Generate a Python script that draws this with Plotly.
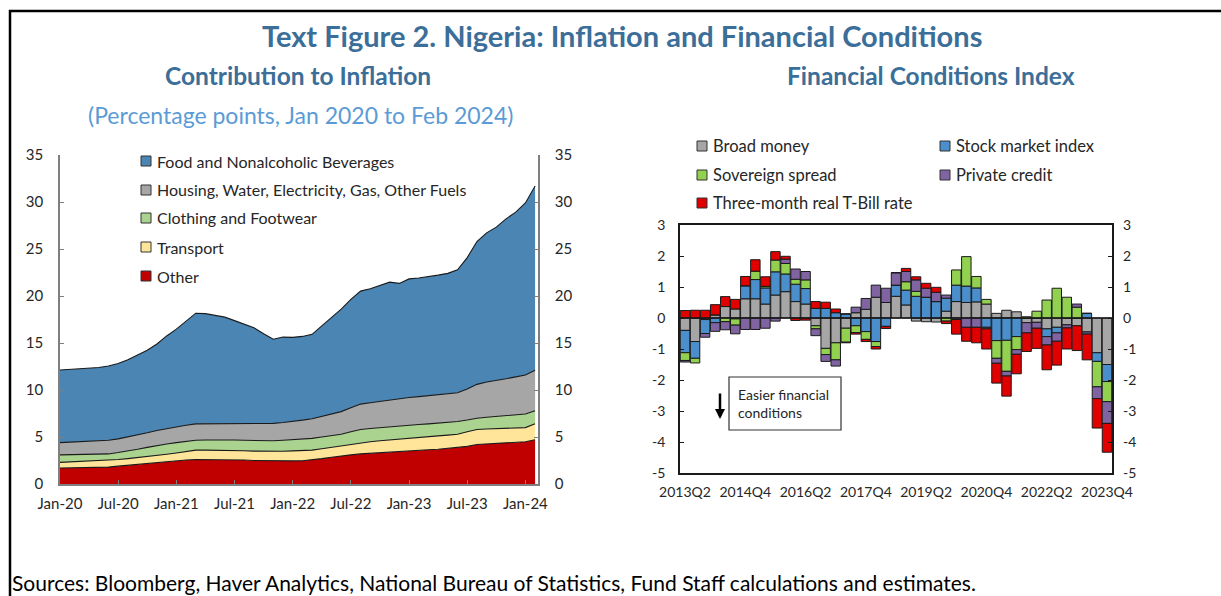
import plotly.graph_objects as go
import pandas as pd

W, H = 1221, 596


def X(p):
    return p / W


def Y(p):
    return 1 - p / H


# ---------------- Left chart data: contribution to inflation (pp) ----------------
months = pd.date_range("2020-01-01", "2024-02-01", freq="MS").strftime("%b-%y").tolist()

other = [1.7, 1.72, 1.74, 1.76, 1.78, 1.8, 1.9, 2.0, 2.1, 2.2, 2.3, 2.38, 2.45, 2.55, 2.6, 2.6, 2.6, 2.6,
         2.58, 2.55, 2.5, 2.47, 2.45, 2.45, 2.46, 2.48, 2.55, 2.7, 2.85, 3.0, 3.1, 3.2, 3.27, 3.35, 3.42,
         3.5, 3.55, 3.6, 3.65, 3.7, 3.78, 3.85, 4.0, 4.2, 4.25, 4.3, 4.35, 4.4, 4.5, 4.7]
transport = [0.6, 0.62, 0.64, 0.66, 0.68, 0.7, 0.7, 0.7, 0.7, 0.72, 0.75, 0.79, 0.85, 0.9, 1.0, 1.0, 1.0,
             1.0, 0.99, 0.99, 1.0, 1.0, 1.0, 1.03, 1.06, 1.08, 1.05, 1.05, 1.05, 1.05, 1.12, 1.2, 1.23,
             1.25, 1.28, 1.3, 1.33, 1.36, 1.39, 1.42, 1.42, 1.45, 1.55, 1.6, 1.6, 1.6, 1.6, 1.58, 1.5, 1.7]
clothing = [0.8, 0.78, 0.76, 0.74, 0.72, 0.7, 0.75, 0.8, 0.9, 0.98, 1.05, 1.08, 1.1, 1.1, 1.05, 1.08, 1.1,
            1.1, 1.11, 1.11, 1.12, 1.13, 1.15, 1.17, 1.18, 1.22, 1.25, 1.25, 1.25, 1.25, 1.33, 1.4, 1.4,
            1.4, 1.4, 1.4, 1.39, 1.37, 1.36, 1.35, 1.35, 1.35, 1.25, 1.2, 1.25, 1.3, 1.35, 1.37, 1.45, 1.4]
housing = [1.3, 1.33, 1.36, 1.39, 1.42, 1.45, 1.45, 1.5, 1.5, 1.55, 1.6, 1.65, 1.7, 1.7, 1.75, 1.72, 1.7,
           1.7, 1.72, 1.75, 1.78, 1.8, 1.85, 1.9, 1.95, 2.02, 2.1, 2.2, 2.3, 2.4, 2.55, 2.7, 2.75, 2.8,
           2.85, 2.9, 2.93, 2.97, 3.0, 3.03, 3.0, 3.05, 3.3, 3.6, 3.75, 3.8, 3.9, 4.05, 4.15, 4.3]
food = [7.73, 7.75, 7.76, 7.79, 7.8, 7.91, 8.02, 8.22, 8.51, 8.78, 9.19, 9.85, 10.37, 11.08, 11.77, 11.72,
        11.53, 11.35, 10.98, 10.61, 10.23, 9.59, 8.95, 9.08, 8.95, 8.9, 8.97, 9.62, 10.26, 10.9, 11.54,
        12.02, 12.12, 12.29, 12.52, 12.24, 12.62, 12.61, 12.64, 12.72, 12.86, 13.09, 13.98, 15.2, 15.87,
        16.33, 17.0, 17.52, 18.3, 19.6]

left_names = ["Food and Nonalcoholic Beverages", "Housing, Water, Electricity, Gas, Other Fuels",
              "Clothing and Footwear", "Transport", "Other"]
left_colors = ["#4A85B3", "#A6A6A6", "#A9D38E", "#FFE59A", "#C00000"]
left_series = [food, housing, clothing, transport, other]
left_ticks = months[::6]
left_yticks = [0, 5, 10, 15, 20, 25, 30, 35]

# ---------------- Right chart data: financial conditions index ----------------
quarters = [f"{y}Q{q}" for y in range(2013, 2024) for q in range(1, 5)][1:]

broad_money = [-0.4, -0.76, -0.05, 0.1, 0.37, 0.29, 0.62, 0.62, 0.45, 0.74, 0.85, 0.53, 0.45, -0.25, -0.98,
               -0.8, -0.33, 0.17, 0.28, 0.67, 0.5, 0.7, 0.42, -0.1, -0.12, -0.13, 0.22, 0.53, 0.5, 0.52,
               0.45, 0.15, 0.25, 0.2, -0.15, -0.14, -0.35, -0.3, -0.22, -0.25, -0.45, -1.12, -1.5]
stock_market = [-0.72, -0.54, -0.45, -0.15, 0.0, -0.03, 0.42, 0.62, 0.52, 0.75, 0.57, 0.56, 0.5, 0.31, 0.31,
                0.17, 0.13, -0.25, -0.44, -0.76, -0.27, 0.36, 0.48, 0.7, 0.67, 0.53, 0.42, 0.53, 0.53, 0.45,
                -0.3, -0.73, -0.72, -0.6, 0.0, 0.0, -0.25, -0.18, 0.0, 0.0, 0.15, -0.28, -0.55]
sovereign = [-0.25, -0.15, 0.0, 0.0, -0.12, -0.2, 0.0, 0.27, 0.05, 0.38, 0.34, 0.16, 0.28, -0.1, -0.2,
             -0.55, -0.45, -0.22, -0.25, -0.16, 0.0, 0.0, 0.27, 0.16, 0.0, 0.0, -0.1, 0.49, 0.95, 0.37,
             0.15, -0.57, -1.0, -0.42, 0.04, 0.22, 0.58, 0.96, 0.67, 0.35, 0.0, -0.82, -0.65]
private_credit = [-0.05, 0.0, -0.12, -0.28, -0.26, -0.28, -0.37, -0.37, -0.33, -0.1, 0.14, 0.33, 0.27, -0.22,
                  -0.22, -0.2, -0.02, 0.18, 0.35, 0.39, 0.46, 0.4, 0.33, 0.37, 0.29, 0.3, 0.1, -0.05, -0.3,
                  -0.3, -0.05, -0.16, -0.15, -0.15, -0.33, -0.19, -0.27, -0.27, -0.1, 0.1, -0.07, -0.38, -0.7]
tbill = [0.24, 0.25, 0.25, 0.33, 0.32, 0.31, 0.3, 0.37, 0.31, 0.27, 0.09, -0.08, -0.07, 0.22, 0.2, 0.12,
         0.0, -0.05, -0.07, -0.08, -0.07, 0.0, 0.1, 0.1, 0.16, 0.16, -0.08, -0.47, -0.45, -0.5, -0.65,
         -0.64, -0.65, -0.63, -0.6, -0.65, -0.8, -0.77, -0.68, -0.8, -0.83, -0.95, -0.93]

right_names = ["Broad money", "Stock market index", "Sovereign spread", "Private credit",
               "Three-month real T-Bill rate"]
right_colors = ["#A6A6A6", "#4A8FCB", "#92D050", "#8064A2", "#E00000"]
right_series = [broad_money, stock_market, sovereign, private_credit, tbill]
right_ticks = quarters[::6]
right_yticks = [3, 2, 1, 0, -1, -2, -3, -4, -5]
right_yticktext = ["3", "2", "1", "0", "-1", "-2", "-3", "-4", "-5"]

FONT = "Lato"
TXT = "#262626"
TITLE_BLUE = "#3B6E98"

fig = go.Figure()

# stacked areas: bottom layer first
for name, vals, col in reversed(list(zip(left_names, left_series, left_colors))):
    fig.add_trace(go.Scatter(
        x=months, y=vals, name=name, stackgroup="infl", mode="lines",
        line=dict(color="#1a1a1a", width=1.1), fillcolor=col,
        xaxis="x", yaxis="y", showlegend=False))

for name, vals, col in zip(right_names, right_series, right_colors):
    fig.add_trace(go.Bar(
        x=quarters, y=vals, name=name, marker=dict(color=col, line=dict(color="#1a1a1a", width=1)),
        xaxis="x2", yaxis="y2", showlegend=False))

# invisible traces carrying the right-hand y labels
fig.add_trace(go.Scatter(x=[months[0]], y=[0], xaxis="x", yaxis="y3", mode="markers",
                         marker=dict(opacity=0), showlegend=False, hoverinfo="skip"))
fig.add_trace(go.Scatter(x=[quarters[0]], y=[0], xaxis="x2", yaxis="y4", mode="markers",
                         marker=dict(opacity=0), showlegend=False, hoverinfo="skip"))

L_x0, L_x1, L_y0, L_y1 = 60, 538, 155, 484
R_x0, R_x1, R_y0, R_y1 = 680, 1112, 225, 473

axis_common = dict(showgrid=False, zeroline=False, automargin=False,
                   tickfont=dict(family=FONT, size=15, color=TXT),
                   ticks="inside", ticklen=4, tickcolor="#7f7f7f", linecolor="#7f7f7f", linewidth=1.5)
right_font = dict(family=FONT, size=14, color=TXT)

fig.update_layout(
    template="none",
    width=W, height=H, margin=dict(l=0, r=0, t=0, b=0, autoexpand=False),
    paper_bgcolor="white", plot_bgcolor="white",
    font=dict(family=FONT, color=TXT),
    barmode="relative", bargap=0.06,
    xaxis=dict(domain=[X(L_x0), X(L_x1)], anchor="y", type="category", range=[0, 49.3],
               tickvals=left_ticks, ticktext=left_ticks, showline=True, ticklabelstandoff=5,
               **axis_common),
    yaxis=dict(domain=[Y(L_y1), Y(L_y0)], anchor="x", range=[0, 35], tickvals=left_yticks,
               showline=True, ticklabelstandoff=12, **axis_common),
    yaxis3=dict(overlaying="y", side="right", anchor="x", range=[0, 35], tickvals=left_yticks,
                showline=True, ticklabelstandoff=12, **axis_common),
    xaxis2=dict(domain=[X(R_x0), X(R_x1)], anchor="y2", type="category", range=[-0.5, 42.5],
                tickvals=right_ticks, ticktext=right_ticks, showline=True, mirror=True,
                ticklabelstandoff=5,
                **{**axis_common, "ticks": "", "linecolor": "#1a1a1a", "tickfont": right_font}),
    yaxis2=dict(domain=[Y(R_y1), Y(R_y0)], anchor="x2", range=[-5, 3], tickvals=right_yticks,
                ticktext=right_yticktext, showline=True, mirror=True, ticklabelstandoff=10,
                **{**axis_common, "linecolor": "#1a1a1a", "tickcolor": "#1a1a1a",
                   "tickfont": right_font}),
    yaxis4=dict(overlaying="y2", side="right", anchor="x2", range=[-5, 3], tickvals=right_yticks,
                ticktext=right_yticktext, showline=False, ticklabelstandoff=10,
                **{**axis_common, "tickcolor": "#1a1a1a", "tickfont": right_font}),
)

shapes = []
annotations = []

# figure frame
shapes.append(dict(type="rect", xref="paper", yref="paper", x0=X(10), x1=X(1240), y0=Y(620), y1=Y(11),
                   line=dict(color="black", width=2.5)))
# zero line for right chart
shapes.append(dict(type="line", xref="x2", yref="y2", x0=-0.5, x1=42.5, y0=0, y1=0,
                   line=dict(color="#1a1a1a", width=1.5)))


def label(text, x, y, size, color, xanchor="center", bold=False):
    annotations.append(dict(text=f"<b>{text}</b>" if bold else text, x=X(x), y=Y(y), xref="paper",
                            yref="paper", xanchor=xanchor, yanchor="middle", showarrow=False,
                            align="left", font=dict(family=FONT, size=size, color=color)))


# titles
label("Text Figure 2. Nigeria: Inflation and Financial Conditions", 622, 35, 29, TITLE_BLUE, bold=True)
label("Contribution to Inflation", 298, 75, 24.5, TITLE_BLUE, bold=True)
label("(Percentage points, Jan 2020 to Feb 2024)", 300, 115, 23, "#5B9BD5")
label("Financial Conditions Index", 931, 75, 24.5, TITLE_BLUE, bold=True)
label("Sources: Bloomberg, Haver Analytics, National Bureau of Statistics, "
      "Fund Staff calculations and estimates.", 10, 582, 21, "black", xanchor="left")

# left legend (manual)
left_rows = [161, 190, 218, 247, 276]
for name, col, yy in zip(left_names, left_colors, left_rows):
    shapes.append(dict(type="rect", xref="paper", yref="paper", x0=X(141), x1=X(151), y0=Y(yy + 5),
                       y1=Y(yy - 5), fillcolor=col, line=dict(color="#333333", width=1)))
    label(name, 155, yy, 16, TXT, xanchor="left")

# right legend (manual, two columns)
right_pos = [(697, 146), (940, 146), (697, 175), (940, 175), (697, 203)]
for name, col, (xx, yy) in zip(right_names, right_colors, right_pos):
    shapes.append(dict(type="rect", xref="paper", yref="paper", x0=X(xx), x1=X(xx + 10), y0=Y(yy + 5),
                       y1=Y(yy - 5), fillcolor=col, line=dict(color="#333333", width=1)))
    label(name, xx + 14, yy, 16.5, TXT, xanchor="left")

# "Easier financial conditions" box and arrow
shapes.append(dict(type="rect", xref="paper", yref="paper", x0=X(729), x1=X(841), y0=Y(430), y1=Y(377),
                   line=dict(color="#333333", width=1.2), fillcolor="white"))
label("Easier financial<br>conditions", 736, 403, 14, TXT, xanchor="left")
annotations.append(dict(text="", x=X(720), y=Y(419), xref="paper", yref="paper", showarrow=True,
                        ax=0, ay=-27, arrowhead=2, arrowsize=0.8, arrowwidth=2.5, arrowcolor="black"))

fig.update_layout(shapes=shapes, annotations=annotations)

fig.write_html("out.html", config={"displayModeBar": False},
               post_script="document.body.style.margin='0';")
